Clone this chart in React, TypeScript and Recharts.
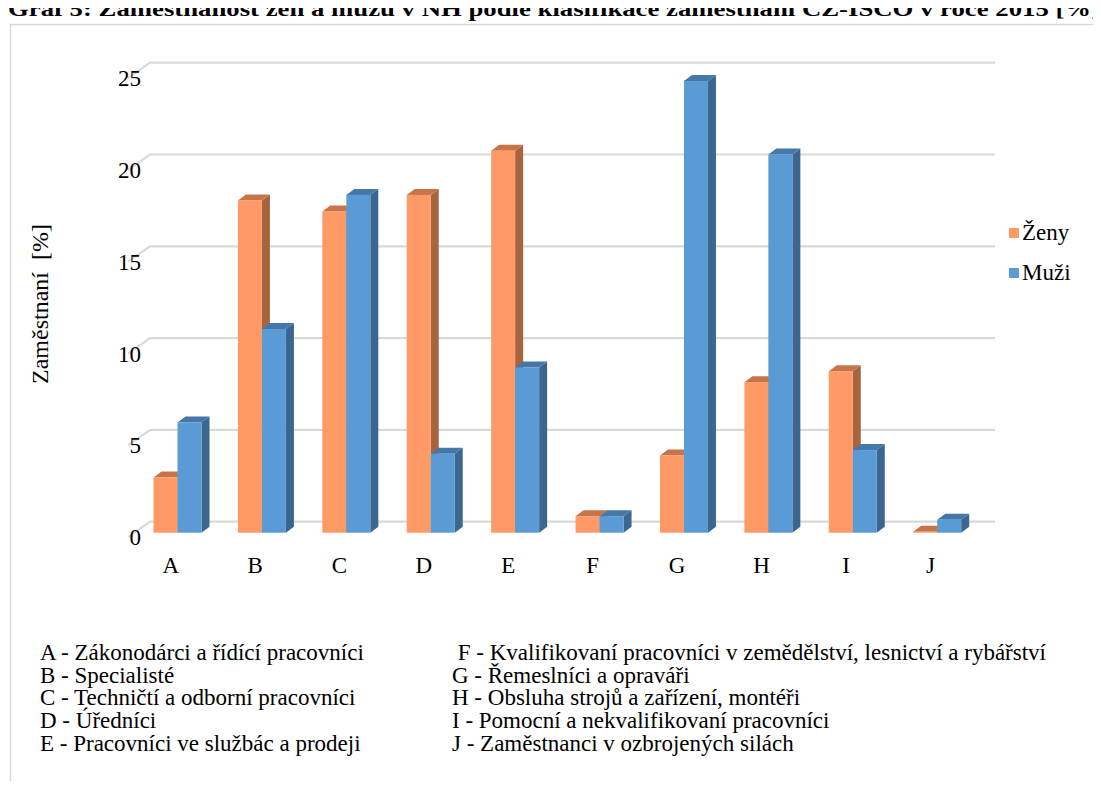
import React from "react";
import { BarChart, Bar, XAxis, YAxis, CartesianGrid, Legend } from "recharts";

// ISCO major groups
const groups = ["A", "B", "C", "D", "E", "F", "G", "H", "I", "J"];
const zeny = [3.0, 18.1, 17.5, 18.4, 20.8, 0.9, 4.2, 8.2, 8.8, 0.05];
const muzi = [6.0, 11.1, 18.4, 4.3, 9.0, 0.9, 24.6, 20.6, 4.5, 0.7];
const yTicks = [0, 5, 10, 15, 20, 25];

const notesLeft = [
  "A - Zákonodárci a řídící pracovníci",
  "B - Specialisté",
  "C - Techničtí a odborní pracovníci",
  "D - Úředníci",
  "E - Pracovníci ve službác a prodeji",
];
const notesRight = [
  " F - Kvalifikovaní pracovníci v zemědělství, lesnictví a rybářství",
  "G - Řemeslníci a opraváři",
  "H - Obsluha strojů a zařízení, montéři",
  "I - Pomocní a nekvalifikovaní pracovníci",
  "J - Zaměstnanci v ozbrojených silách",
];

const data = groups.map((g, i) => ({ name: g, zeny: zeny[i], muzi: muzi[i] }));

const FONT = "Liberation Serif, DejaVu Serif, Tinos, serif";
const FS = 23;
const DX = 8;
const DY = 6;

const colors = {
  zeny: { front: "#FF9966", side: "#A6643F", top: "#C7744A" },
  muzi: { front: "#5B9BD5", side: "#3A6690", top: "#4577A8" },
};

function Box3D(props: any) {
  const { x, y, width, height, c } = props;
  if (x == null || y == null) return null;
  const w = width;
  const h = Math.max(height, 0);
  return (
    <g>
      <polygon
        points={`${x + w},${y} ${x + w + DX},${y - DY} ${x + w + DX},${y + h - DY} ${x + w},${y + h}`}
        fill={c.side}
      />
      <polygon
        points={`${x},${y} ${x + DX},${y - DY} ${x + w + DX},${y - DY} ${x + w},${y}`}
        fill={c.top}
      />
      <rect x={x} y={y} width={w} height={h} fill={c.front} />
    </g>
  );
}

// gridline on the back wall with a short slanted piece on the side wall
function GridLine3D(p: any) {
  const { x1, x2, y1, index } = p;
  const d = `M${x1 - 7.5},${y1 + 4.5} L${x1 + 14.5},${y1 - 11} L${x2 + 15.4},${y1 - 11}`;
  return <path key={`g-${index}`} d={d} stroke="#D9D9D9" strokeWidth={2.2} fill="none" />;
}

const YTick = (p: any) => (
  <text x={p.x + 5.5} y={p.y + 4.5} dy={8} textAnchor="end" fontFamily={FONT} fontSize={FS} fill="#000">
    {p.payload.value}
  </text>
);

const XTick = (p: any) => (
  <text x={p.x - 7} y={p.y + 40} textAnchor="middle" fontFamily={FONT} fontSize={FS} fill="#000">
    {p.payload.value}
  </text>
);

const legendItems = [
  { label: "Ženy", color: colors.zeny.front },
  { label: "Muži", color: colors.muzi.front },
];

const LegendBox = () => (
  <div style={{ fontFamily: FONT, fontSize: FS, color: "#000", lineHeight: "26px" }}>
    {legendItems.map((it) => (
      <div key={it.label} style={{ display: "flex", alignItems: "center", height: 40 }}>
        <span style={{ width: 10, height: 10, background: it.color, marginRight: 3 }} />
        {it.label}
      </div>
    ))}
  </div>
);

export default function App() {
  return (
    <div style={{ position: "relative", margin: -8, width: 1101, height: 789, background: "#fff", overflow: "hidden" }}>
      <svg width={1101} height={789} style={{ position: "absolute", left: 0, top: 0 }}>
        <rect x={10.5} y={24.5} width={1200} height={900} fill="none" stroke="#D9D9D9" strokeWidth={1.5} />
        <text
          x={8}
          y={16}
          fontFamily={FONT}
          fontWeight="bold"
          fontSize={22}
          fill="#000"
          textLength={1092}
          lengthAdjust="spacingAndGlyphs"
        >
          Graf 5: Zaměstnanost žen a mužů v NH podle klasifikace zaměstnání CZ-ISCO v roce 2015 [%]
        </text>
        <text
          transform="translate(48,304) rotate(-90)"
          textAnchor="middle"
          fontFamily={FONT}
          fontSize={24}
          fill="#000"
          style={{ whiteSpace: "pre" }}
        >
          Zaměstnaní  [%]
        </text>
        {notesLeft.map((t, i) => (
          <text key={t} x={40} y={660 + i * 22.7} fontFamily={FONT} fontSize={FS} fill="#000" style={{ whiteSpace: "pre" }}>
            {t}
          </text>
        ))}
        {notesRight.map((t, i) => (
          <text key={t} x={452} y={660 + i * 22.7} fontFamily={FONT} fontSize={FS} fill="#000" style={{ whiteSpace: "pre" }}>
            {t}
          </text>
        ))}
      </svg>
      <div style={{ position: "absolute", left: 0, top: 0 }}>
        <BarChart
          width={1101}
          height={789}
          data={data}
          margin={{ top: 73.7, bottom: 226.3, left: 95.5, right: 121.4 }}
          barGap={0}
          barSize={24}
        >
          <CartesianGrid vertical={false} horizontal={GridLine3D as any} />
          <XAxis dataKey="name" axisLine={false} tickLine={false} tickSize={0} tickMargin={0} tick={XTick} interval={0} />
          <YAxis
            width={40}
            domain={[0, 25]}
            ticks={yTicks}
            axisLine={false}
            tickLine={false}
            tickSize={0}
            tickMargin={0}
            tick={YTick}
          />
          <Legend
            layout="horizontal"
            align="center"
            verticalAlign="middle"
            content={<LegendBox />}
            wrapperStyle={{ position: "absolute", left: 1009, top: 213, width: 92 }}
          />
          <Bar
            dataKey="zeny"
            name="Ženy"
            isAnimationActive={false}
            shape={(p: any) => <Box3D {...p} c={colors.zeny} />}
          />
          <Bar
            dataKey="muzi"
            name="Muži"
            isAnimationActive={false}
            shape={(p: any) => <Box3D {...p} c={colors.muzi} />}
          />
        </BarChart>
      </div>
    </div>
  );
}
